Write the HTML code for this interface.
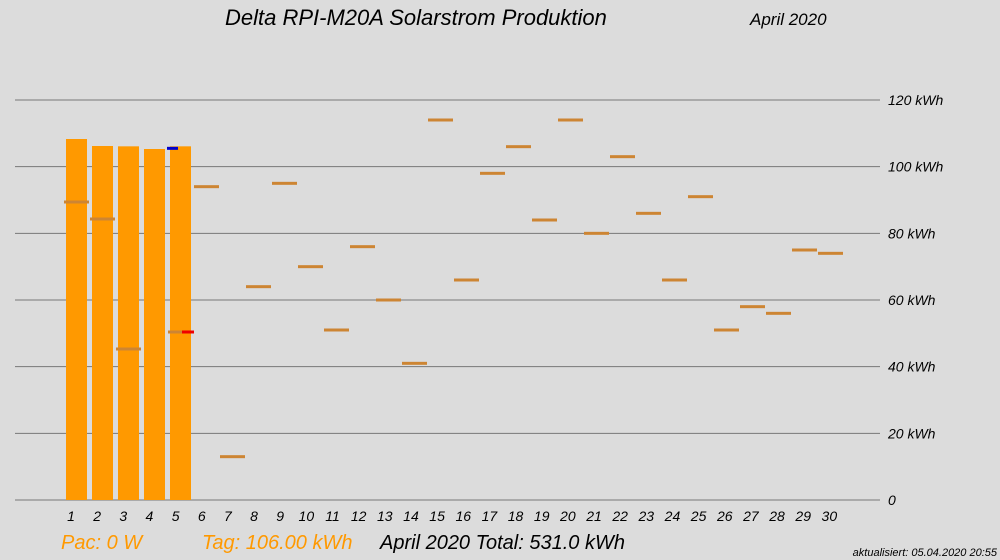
<!DOCTYPE html>
<html><head><meta charset="utf-8"><style>
body{margin:0;background:#dcdcdc;}
svg{display:block;font-family:"Liberation Sans",sans-serif;font-style:italic;}
</style></head><body>
<svg id="chart" width="1000" height="560" viewBox="0 0 1000 560">
<rect width="1000" height="560" fill="#dcdcdc"/>
<text x="225" y="25" font-size="22" fill="#000">Delta RPI-M20A Solarstrom Produktion</text>
<text x="750" y="25" font-size="17" fill="#000">April 2020</text>
<g id="grid"></g><g id="marks"></g><g id="xlabels"></g>
<text x="61" y="549" font-size="20" fill="#ff9900">Pac: 0 W</text>
<text x="202" y="549" font-size="20" fill="#ff9900">Tag: 106.00 kWh</text>
<text x="380" y="549" font-size="20" fill="#000">April 2020 Total:  531.0 kWh</text>
<text x="997" y="556" font-size="11" fill="#000" text-anchor="end">aktualisiert: 05.04.2020 20:55</text>
</svg>
<script>
const days=[1,2,3,4,5,6,7,8,9,10,11,12,13,14,15,16,17,18,19,20,21,22,23,24,25,26,27,28,29,30];
const production=[108.3,106.2,106.1,105.3,106.1];
const reference=[89.4,84.3,45.3,null,50.4,94,13,64,95,70,51,76,60,41,114,66,98,106,84,114,80,103,86,66,91,51,58,56,75,74];
const yTicks=[0,20,40,60,80,100,120];
const yTickLabels=["0","20 kWh","40 kWh","60 kWh","80 kWh","100 kWh","120 kWh"];
const maxValue=105.5;
const NS="http://www.w3.org/2000/svg";
const y=v=>500-v*(400/120);
const x=d=>66+26*(d-1);
function mk(t,a,p){const e=document.createElementNS(NS,t);for(const k in a)e.setAttribute(k,a[k]);p.appendChild(e);return e;}
const g=document.getElementById('grid'),m=document.getElementById('marks'),xl=document.getElementById('xlabels');
yTicks.forEach((v,i)=>{
 const l=mk('line',{x1:15,x2:880,y1:y(v),y2:y(v),stroke:'#777','stroke-width':1},g);
 
 
 const t=mk('text',{x:888,y:y(v)+5,'font-size':14,fill:'#000'},g);t.textContent=yTickLabels[i];
 
 
});
production.forEach((v,i)=>{
 const r=mk('rect',{x:x(days[i]),y:y(v),width:21,height:500-y(v),fill:'#ff9900'},m);
 
 
});
reference.forEach((v,i)=>{
 if(v==null)return;
 const d=days[i];
 const last=i===production.length-1;
 const r=mk('rect',{x:x(d)-2,y:y(v)-1.5,width:last?14:25,height:3,fill:'#cd8533'},m);
 
 
 if(last){const r2=mk('rect',{x:x(d)+12,y:y(v)-1.5,width:12,height:3,fill:'#ee0000'},m);
 
 }
});
const li=production.length;
const b=mk('rect',{x:x(days[li-1])-3,y:y(maxValue)-1.5,width:11,height:3,fill:'#0000cc'},m);


days.forEach(d=>{
 const t=mk('text',{x:71+26.15*(d-1),y:521,'font-size':14,fill:'#000','text-anchor':'middle'},xl);t.textContent=d;
 
 
});
</script>
</body></html>
